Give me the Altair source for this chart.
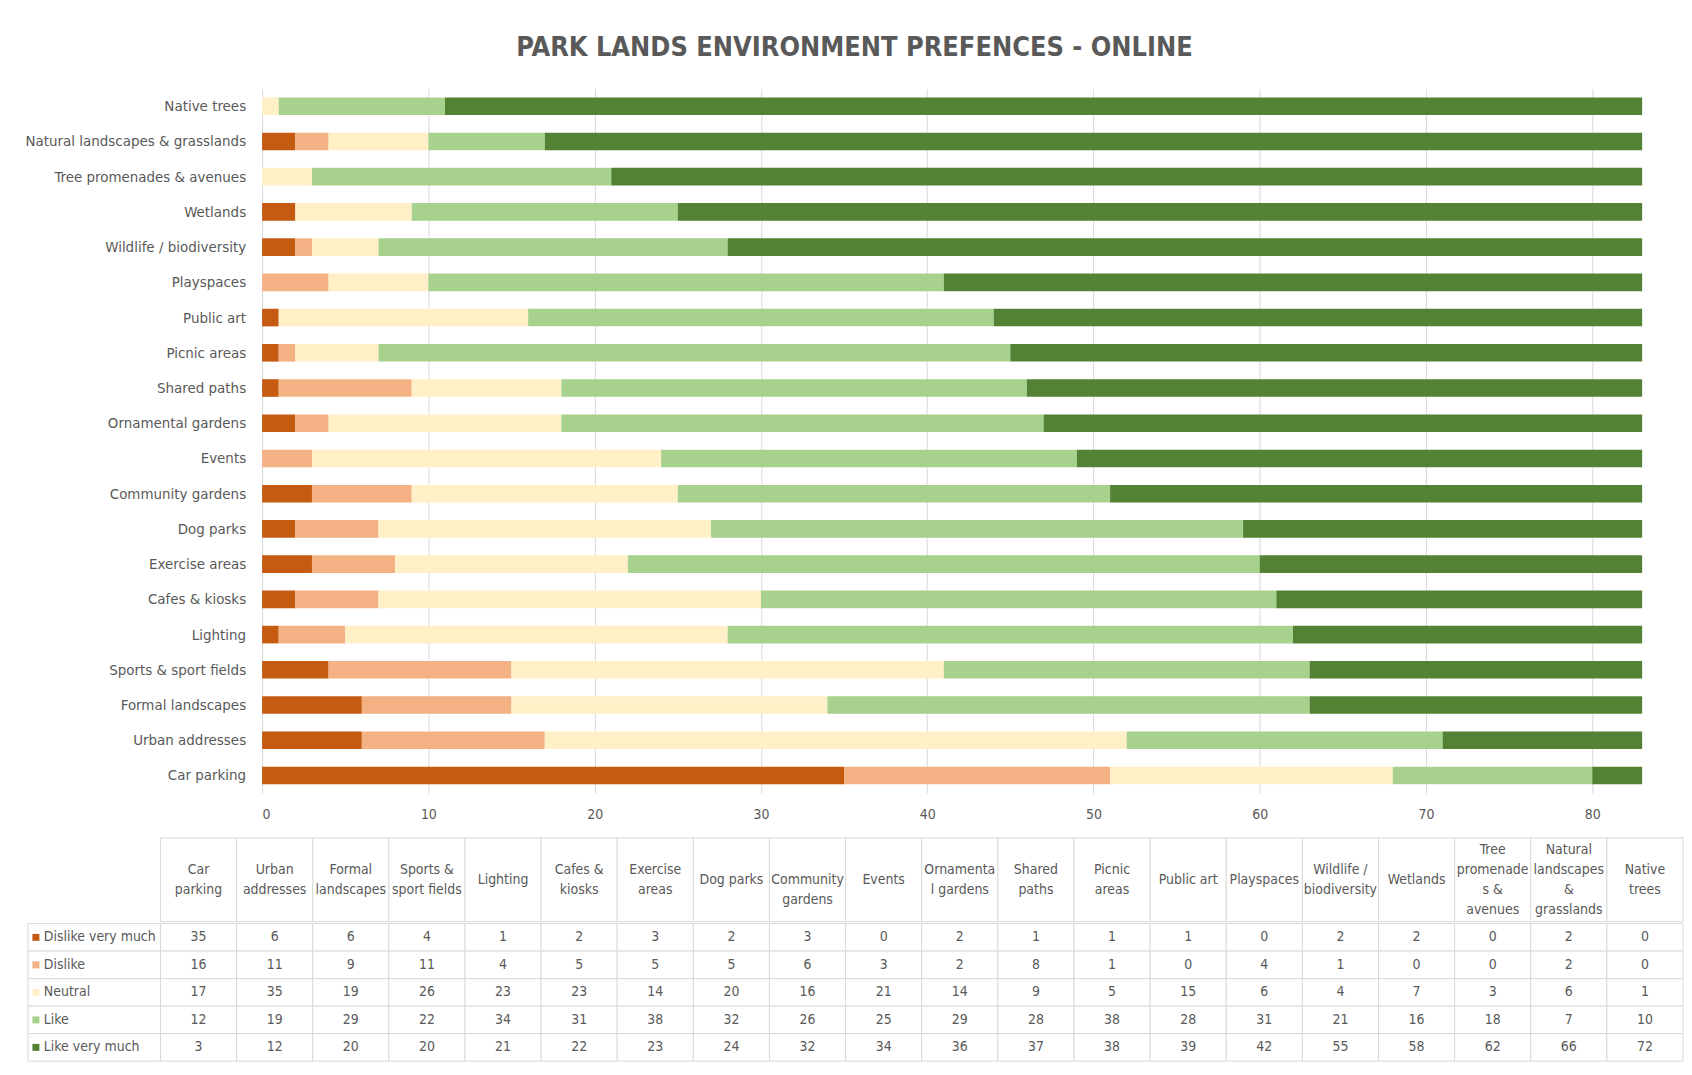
import altair as alt
import pandas as pd

categories = ["Car parking", "Urban addresses", "Formal landscapes", "Sports & sport fields",
              "Lighting", "Cafes & kiosks", "Exercise areas", "Dog parks", "Community gardens",
              "Events", "Ornamental gardens", "Shared paths", "Picnic areas", "Public art",
              "Playspaces", "Wildlife / biodiversity", "Wetlands", "Tree promenades & avenues",
              "Natural landscapes & grasslands", "Native trees"]
header_labels = ["Car\nparking", "Urban\naddresses", "Formal\nlandscapes", "Sports &\nsport fields",
                 "Lighting", "Cafes &\nkiosks", "Exercise\nareas", "Dog parks", "\nCommunity\ngardens",
                 "Events", "Ornamenta\nl gardens", "Shared\npaths", "Picnic\nareas", "Public art",
                 "Playspaces", "Wildlife /\nbiodiversity", "Wetlands", "Tree\npromenade\ns &\navenues",
                 "Natural\nlandscapes\n&\ngrasslands", "Native\ntrees"]
levels = ["Dislike very much", "Dislike", "Neutral", "Like", "Like very much"]
dislike_very_much = [35, 6, 6, 4, 1, 2, 3, 2, 3, 0, 2, 1, 1, 1, 0, 2, 2, 0, 2, 0]
dislike = [16, 11, 9, 11, 4, 5, 5, 5, 6, 3, 2, 8, 1, 0, 4, 1, 0, 0, 2, 0]
neutral = [17, 35, 19, 26, 23, 23, 14, 20, 16, 21, 14, 9, 5, 15, 6, 4, 7, 3, 6, 1]
like = [12, 19, 29, 22, 34, 31, 38, 32, 26, 25, 29, 28, 38, 28, 31, 21, 16, 18, 7, 10]
like_very_much = [3, 12, 20, 20, 21, 22, 23, 24, 32, 34, 36, 37, 38, 39, 42, 55, 58, 62, 66, 72]
colors = ["#c55a11", "#f4b183", "#fff0c8", "#a9d18e", "#548235"]
x_ticks = [0, 10, 20, 30, 40, 50, 60, 70, 80]

series = [dislike_very_much, dislike, neutral, like, like_very_much]
rows = []
for j, (lev, vals) in enumerate(zip(levels, series)):
    for i, cat in enumerate(categories):
        rows.append({"category": cat, "level": lev, "value": vals[i], "order": j})
df = pd.DataFrame(rows)
cat_df = pd.DataFrame({"category": categories, "header": header_labels,
                       "nlines": [h.count("\n") + 1 for h in header_labels]})
lev_df = pd.DataFrame({"level": levels})

FONT = "DejaVu Sans Condensed, DejaVu Sans, sans-serif"
GREY = "#595959"
LINE = "#d9d9d9"
TABLE_W = 1528
LINE_H = 20

color_scale = alt.Scale(domain=levels, range=colors)
y_bar = alt.Y("category:N", sort=categories[::-1], axis=None,
              scale=alt.Scale(paddingInner=0.5, paddingOuter=0.25))
x_bar_scale = alt.Scale(domain=[0, 83], range=[102, 1487], nice=False, zero=True)

bars = alt.Chart(df).mark_bar().encode(
    y=y_bar,
    x=alt.X("value:Q", stack="zero", scale=x_bar_scale,
            axis=alt.Axis(values=x_ticks, grid=True, gridColor=LINE, domain=False, ticks=False,
                          labelColor=GREY, labelFontSize=14, labelFont=FONT, labelPadding=15,
                          title=" ", titleFontSize=10, titlePadding=5)),
    color=alt.Color("level:N", scale=color_scale, legend=None),
    order=alt.Order("order:Q"),
)
bar_labels = alt.Chart(cat_df).mark_text(align="right", baseline="middle", dx=-16,
                                         fontSize=15, font=FONT, color=GREY).encode(
    y=y_bar, x=alt.datum(0), text="category:N")
bar_chart = alt.layer(bars, bar_labels).properties(width=TABLE_W, height=707)

x_tab = alt.X("category:N", sort=categories, axis=None,
              scale=alt.Scale(paddingInner=0, paddingOuter=0))

header_cells = alt.Chart(cat_df).mark_rect(fill="white", stroke=LINE, strokeWidth=1).encode(x=x_tab)
header_layers = [header_cells]
for n in [1, 2, 3, 4]:
    header_layers.append(
        alt.Chart(cat_df).transform_filter(alt.datum.nlines == n).mark_text(
            lineBreak="\n", fontSize=14, font=FONT, color=GREY, lineHeight=LINE_H,
            baseline="middle", dy=-(n - 1) * LINE_H / 2).encode(x=x_tab, text="header:N"))
header = alt.layer(*header_layers).properties(width=TABLE_W, height=84)

y_tab = alt.Y("level:N", sort=levels, axis=None, scale=alt.Scale(paddingInner=0, paddingOuter=0))
body_cells = alt.Chart(df).mark_rect(fill="white", stroke=LINE, strokeWidth=1).encode(x=x_tab, y=y_tab)
body_text = alt.Chart(df).mark_text(fontSize=14, font=FONT, color=GREY, baseline="middle").encode(
    x=x_tab, y=y_tab, text="value:Q")
label_cells = alt.Chart(lev_df).mark_rect(fill="white", stroke=LINE, strokeWidth=1).encode(
    x=alt.value(-133), x2=alt.value(0), y=y_tab)
label_squares = alt.Chart(lev_df).mark_square(size=49, opacity=1).encode(
    x=alt.value(-125), y=y_tab, color=alt.Color("level:N", scale=color_scale, legend=None))
label_text = alt.Chart(lev_df).mark_text(align="left", baseline="middle", fontSize=14, font=FONT,
                                         color=GREY).encode(
    x=alt.value(-117), y=y_tab, text="level:N")
body = alt.layer(body_cells, body_text, label_cells, label_squares, label_text).properties(
    width=TABLE_W, height=138)

chart = alt.vconcat(bar_chart, header, body, spacing=0).properties(
    title=alt.TitleParams("PARK LANDS ENVIRONMENT PREFENCES - ONLINE", fontSize=27, fontWeight="bold",
                          font=FONT, color=GREY, anchor="middle", offset=27),
    padding={"left": 17, "top": 24, "right": 0, "bottom": 5},
).configure(background="white").configure_view(stroke=None)

chart.save("out.html", embed_options={"renderer": "svg", "actions": False})
